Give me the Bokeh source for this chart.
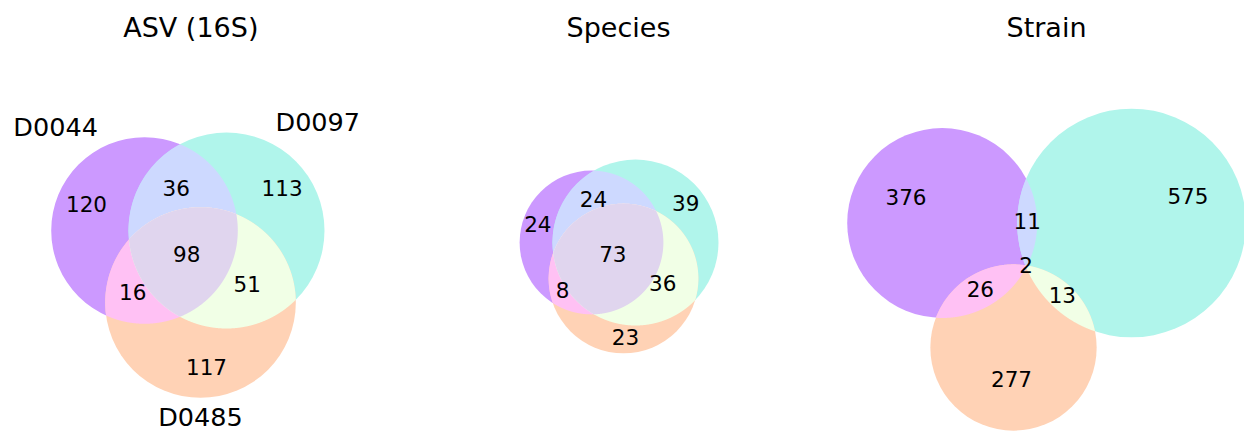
import numpy as np
from bokeh.plotting import figure
from bokeh.models import Range1d
from bokeh.embed import file_html
from bokeh.resources import INLINE
from bokeh.core.properties import value

# ---------------- data ----------------
titles = ["ASV (16S)", "Species", "Strain"]
set_labels = ["D0044", "D0097", "D0485"]
# region counts, order: A only, B only, A&B, C only, A&C, B&C, A&B&C
asv_counts = [120, 113, 36, 117, 16, 51, 98]
species_counts = [24, 39, 24, 23, 8, 36, 73]
strain_counts = [376, 575, 11, 277, 26, 13, 2]
patterns = [(1, 0, 0), (0, 1, 0), (1, 1, 0), (0, 0, 1), (1, 0, 1), (0, 1, 1), (1, 1, 1)]

# ---------------- layout (page pixels) ----------------
W, H = 1244, 433
panel_title_x = [190.3, 618.0, 1046.0]
title_baseline = 37.3
# px per sqrt(count), circle centres per panel (layout from the venn solver)
panel_scale = [98 / np.sqrt(298), 83 / np.sqrt(172), 95 / np.sqrt(415)]
panel_centers = [
    [(144.0, 230.0), (226.0, 230.0), (200.0, 302.0)],
    [(591.0, 242.0), (635.0, 242.0), (623.0, 278.0)],
    [(941.7, 222.5), (1131.0, 222.5), (1013.0, 347.0)],
]
show_set_labels = [True, False, False]

base_colors = [(128, 0, 255), (58, 230, 205), (255, 143, 70)]
alpha = 0.4
FONT = "DejaVu Sans"
title_fs, setlab_fs, num_fs = 27.0, 25.5, 21.5
TEXT_SHIFT = 0.4  # em; renderer baseline correction


def mix(*cols):
    c = [np.array(x) / 255.0 for x in cols]
    if len(c) == 1:
        m = c[0]
    elif len(c) == 2:
        m = 0.7 * (c[0] + c[1])
    else:
        m = 0.4 * (c[0] + c[1] + c[2])
    m = np.minimum(m, 1.0)
    f = 1 - alpha * (1 - m)
    r, g, b = (np.round(f * 255)).astype(int)
    return "#%02x%02x%02x" % (r, g, b)


region_colors = [
    mix(base_colors[0]), mix(base_colors[1]), mix(base_colors[0], base_colors[1]),
    mix(base_colors[2]), mix(base_colors[0], base_colors[2]), mix(base_colors[1], base_colors[2]),
    mix(*base_colors),
]


def set_sizes(counts):
    sizes = []
    for k in range(3):
        sizes.append(sum(c for c, pat in zip(counts, patterns) if pat[k]))
    return sizes


def circle_pts(c, r, n):
    th = np.linspace(0, 2 * np.pi, n, endpoint=False)
    return th, np.c_[c[0] + r * np.cos(th), c[1] + r * np.sin(th)]


def inter_poly(centers, radii, idxs, n=2880):
    pts_all = []
    for i in idxs:
        _, pts = circle_pts(centers[i], radii[i], n)
        m = np.ones(n, bool)
        for j in idxs:
            if j != i:
                m &= np.hypot(pts[:, 0] - centers[j][0], pts[:, 1] - centers[j][1]) <= radii[j]
        pts_all.append(pts[m])
    P = np.vstack(pts_all)
    if len(P) < 3:
        return None
    c = P.mean(0)
    ang = np.arctan2(P[:, 1] - c[1], P[:, 0] - c[0])
    return P[np.argsort(ang)]


def label_pos(centers, radii, pat, n=7200):
    tot, acc = 0.0, np.zeros(2)
    for i in range(3):
        th, pts = circle_pts(centers[i], radii[i], n)
        m = np.ones(n, bool)
        for j in range(3):
            if j == i:
                continue
            inside = np.hypot(pts[:, 0] - centers[j][0], pts[:, 1] - centers[j][1]) < radii[j]
            m &= inside == bool(pat[j])
        if not m.any() or m.all():
            continue
        start = int(np.argmin(m))
        mr = np.roll(m, -start)
        k = 0
        while k < n:
            if mr[k]:
                s = k
                while k < n and mr[k]:
                    k += 1
                e = k
                mid = ((s + e - 1) / 2.0 + start) * 2 * np.pi / n
                length = (e - s) * 2 * np.pi / n * radii[i]
                mp = np.array([centers[i][0] + radii[i] * np.cos(mid),
                               centers[i][1] + radii[i] * np.sin(mid)])
                acc += length * mp
                tot += length
            else:
                k += 1
    if tot == 0:
        return None
    return acc / tot


p = figure(width=W, height=H, x_range=Range1d(0, W), y_range=Range1d(H, 0),
           output_backend="svg", toolbar_location=None, min_border=0)
p.axis.visible = False
p.grid.visible = False
p.outline_line_color = None
p.background_fill_color = "white"
p.border_fill_color = "white"


def add_text(xs, ys, ts, fs, align):
    p.text(x=list(xs), y=[y - TEXT_SHIFT * fs for y in ys], text=list(ts), text_font=value(FONT),
           text_font_size=value("%.1fpx" % fs), text_align=align,
           text_baseline="alphabetic", text_color="black")


all_counts = [asv_counts, species_counts, strain_counts]
for pi, counts in enumerate(all_counts):
    sizes = set_sizes(counts)
    radii = [panel_scale[pi] * np.sqrt(s) for s in sizes]
    centers = panel_centers[pi]
    # full circles
    p.circle(x=[c[0] for c in centers], y=[c[1] for c in centers], radius=radii,
             fill_color=[region_colors[0], region_colors[1], region_colors[3]],
             line_color=None)
    # pairwise lenses, then triple
    for idxs, col in [((0, 1), region_colors[2]), ((0, 2), region_colors[4]),
                      ((1, 2), region_colors[5]), ((0, 1, 2), region_colors[6])]:
        poly = inter_poly(centers, radii, idxs)
        if poly is not None:
            p.patch(x=poly[:, 0], y=poly[:, 1], fill_color=col, line_color=None)
    # subset labels
    xs, ys, ts = [], [], []
    for cnt, pat in zip(counts, patterns):
        pos = label_pos(centers, radii, pat)
        if pos is None:
            continue
        xs.append(pos[0])
        ys.append(pos[1] + 0.33 * num_fs)
        ts.append(str(cnt))
    add_text(xs, ys, ts, num_fs, "center")
    # title
    add_text([panel_title_x[pi]], [title_baseline], [titles[pi]], title_fs, "center")
    # set labels
    if show_set_labels[pi]:
        add_text([centers[0][0] - radii[0] / 2], [centers[0][1] - radii[0]], [set_labels[0]],
                 setlab_fs, "right")
        add_text([centers[1][0] + radii[1] / 2], [centers[1][1] - radii[1]], [set_labels[1]],
                 setlab_fs, "left")
        add_text([centers[2][0]], [centers[2][1] + 1.1 * radii[2] + 0.76 * setlab_fs],
                 [set_labels[2]], setlab_fs, "center")

open("out.html", "w").write(file_html(p, INLINE))
